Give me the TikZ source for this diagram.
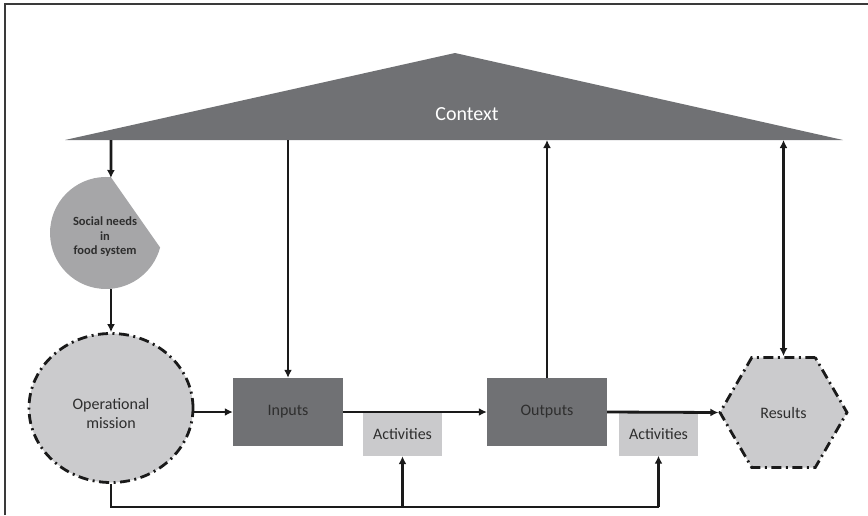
\documentclass[tikz,border=0pt]{standalone}
\usepackage{fontspec}
\setmainfont{Carlito}
\usetikzlibrary{shapes.geometric,arrows.meta,calc}
\definecolor{darkfill}{HTML}{707174}
\definecolor{lightfill}{HTML}{CBCBCD}
\definecolor{midfill}{HTML}{A6A6A8}
\definecolor{actfill}{HTML}{CACACC}
\definecolor{inkc}{HTML}{1A1A1A}
\definecolor{txtc}{HTML}{2E2E2E}
\definecolor{framec}{HTML}{3A3A3A}
\begin{document}
\begin{tikzpicture}[x=1pt,y=-1pt,
  conn/.style={line width=2.8pt,draw=inkc,-{Latex[length=8pt,width=8pt]}},
  plainline/.style={line width=2.8pt,draw=inkc,line join=miter},
  dashdot/.style={draw=inkc,line width=2.8pt,dash pattern=on 10pt off 4.5pt on 2pt off 4.5pt},
  darkbox/.style={rectangle,fill=darkfill,text=txtc,inner sep=0pt,minimum height=68pt,font=\fontsize{16}{19}\selectfont},
  actbox/.style={rectangle,fill=actfill,text=txtc,inner sep=0pt,minimum width=79pt,minimum height=43pt,font=\fontsize{16}{19}\selectfont},
]
\useasboundingbox (0,0) rectangle (868,515);
\draw[line width=1.6pt,draw=framec] (5,515) -- (5,4) -- (868,4);

% Context triangle
\fill[darkfill] (65,140) -- (455,53) -- (843,140) -- cycle;
\node[text=white,font=\fontsize{20}{24}\selectfont] (context) at (467,114) {Context};
\coordinate (ctxA) at (111,140);
\coordinate (ctxB) at (288,140);
\coordinate (ctxC) at (547,140);
\coordinate (ctxD) at (783.5,140);

% Social needs (circle with cut segment)
\fill[midfill] (110.9,177.2) arc[start angle=85,end angle=345,radius=56pt] -- cycle;
\coordinate (socialtop) at (110.9,178);
\coordinate (socialbot) at (111,288.5);
\node[text=txtc,align=center,font=\bfseries\fontsize{12.5}{14.5}\selectfont] (social) at (105,237) {Social needs\\in\\food system};

% Operational mission
\node[ellipse,fill=lightfill,dashdot,minimum width=164pt,minimum height=149pt,inner sep=0pt] (mission) at (111,408) {};
\node[text=txtc,align=center,font=\fontsize{16}{19}\selectfont] (missiontext) at (111,413) {Operational\\mission};

% Boxes
\node[darkbox,minimum width=110pt] (inputs) at (288,412) {Inputs};
\node[darkbox,minimum width=120pt] (outputs) at (547,412) {Outputs};
\node[actbox] (act1) at (402.5,434.5) {Activities};
\node[actbox] (act2) at (658.5,434) {Activities};

% Results hexagon
\node[regular polygon,regular polygon sides=6,minimum size=127pt,inner sep=0pt,fill=lightfill,dashdot,text=txtc,font=\fontsize{16}{19}\selectfont] (results) at (783.5,412.5) {Results};

% Connectors
\draw[conn] (ctxA) -- (socialtop);
\draw[conn] (socialbot) -- (mission.north);
\draw[conn] (ctxB) -- (inputs.north);
\draw[conn] (outputs.north) -- (ctxC);
\draw[line width=2.8pt,draw=inkc,{Latex[length=8pt,width=8pt]}-{Latex[length=8pt,width=8pt]}] (ctxD) -- (results.north);
\draw[conn] (mission.east |- inputs.west) -- (inputs.west);
\draw[conn] (inputs.east) -- (outputs.west);
\draw[conn] (outputs.east) -- (results.west);

\coordinate (bl) at (111,507);
\draw[plainline] (mission.south) -- (bl) -- (bl -| act2.south);
\draw[conn] (bl -| act1.south) -- (act1.south);
\draw[conn] (bl -| act2.south) -- (act2.south);
\end{tikzpicture}
\end{document}
